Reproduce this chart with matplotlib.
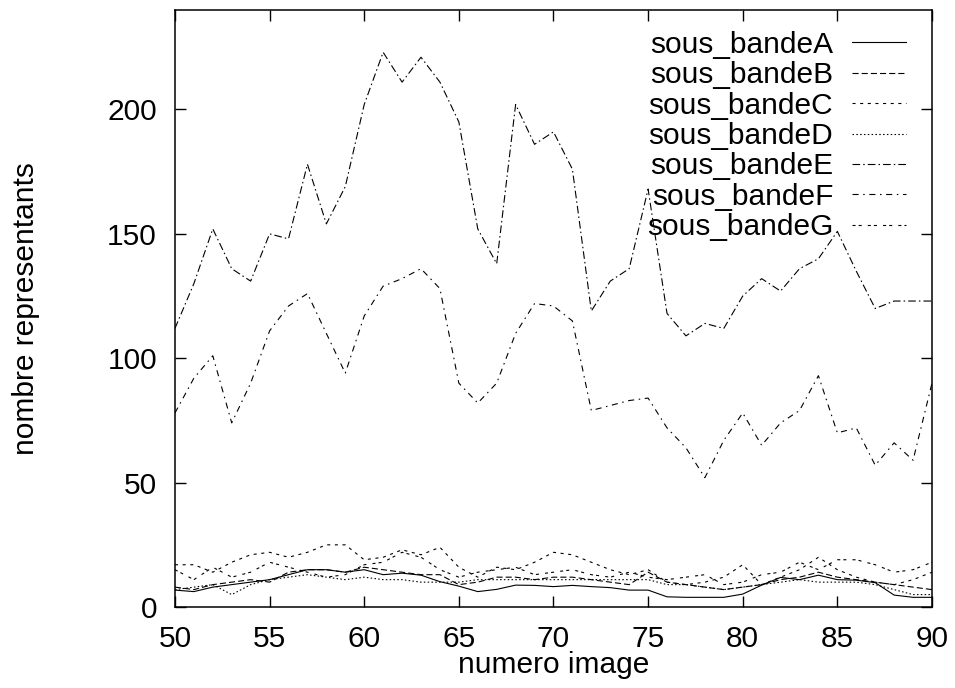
import matplotlib
matplotlib.use("Agg")
import matplotlib.pyplot as plt

plt.rcParams['font.family'] = ['Liberation Sans', 'DejaVu Sans']
plt.rcParams['lines.scale_dashes'] = False

x = list(range(50, 91))

bandeA = [6.8, 6.2, 8, 9, 10, 11, 13, 15, 15, 14, 15, 13, 13.6, 12.8, 10.2, 8.4, 6.2, 7.1, 8.8, 8.7,
          8.2, 8.7, 8.2, 7.8, 6.8, 6.8, 4.1, 3.9, 3.9, 3.9, 5.2, 8.8, 11.9, 11, 12.8, 11, 10.8, 9.8,
          4.8, 3.9, 3.9]
bandeB = [8, 7, 9, 10, 11, 10, 14, 15, 15, 14, 16, 15, 14, 13, 13, 9, 10, 12, 12, 11,
          12, 12, 11, 10, 9, 14, 10, 9, 8, 7, 8, 9, 11, 12, 14, 12, 11, 10, 9, 8, 7]
bandeC = [17, 17, 14, 18, 21, 22, 20, 22, 25, 25, 19, 20, 23, 21, 24, 16, 12, 16, 15, 18,
          22, 21, 18, 15, 13, 15, 10, 9, 10, 12, 17, 9, 12, 15, 20, 15, 12, 10, 9, 11, 14]
bandeD = [7, 8, 9, 5, 9, 11, 12, 13, 12, 11, 12, 11, 11, 10, 10, 10, 11, 11, 11, 11,
          11, 11, 11, 11, 11, 11, 9, 9, 8, 7, 8, 9, 10, 11, 10, 10, 10, 9, 7, 5, 5]
bandeE = [112, 130, 152, 136, 131, 150, 148, 178, 154, 169, 202, 223, 211, 221, 211, 195, 152, 138,
          202, 186, 191, 176, 119, 131, 136, 168, 118, 109, 114, 112, 125, 132, 127, 136, 140, 151,
          135, 120, 123, 123, 123]
bandeF = [78, 92, 101, 74, 90, 111, 121, 126, 110, 94, 117, 129, 132, 136, 128, 90, 82, 90,
          110, 122, 121, 115, 79, 81, 83, 84, 72, 64, 52, 67, 78, 65, 74, 79, 93, 70, 72, 57,
          66, 59, 90]
bandeG = [15, 11, 16, 12, 14, 18, 16, 14, 12, 13, 17, 18, 22, 20, 15, 12, 14, 15, 16, 13,
          14, 15, 13, 12, 14, 12, 11, 12, 13, 9, 10, 13, 14, 18, 15, 19, 19, 17, 14, 15, 18]

labels = ["sous_bandeA", "sous_bandeB", "sous_bandeC", "sous_bandeD",
          "sous_bandeE", "sous_bandeF", "sous_bandeG"]
series = [bandeA, bandeB, bandeC, bandeD, bandeE, bandeF, bandeG]

u = 1.1
dashes = [None, (0, (4*u, 2*u)), (0, (2*u, 3*u)), (0, (1*u, 1.5*u)),
          (0, (5*u, 2*u, 1*u, 2*u)), (0, (4*u, 3*u, 1*u, 3*u)), (0, (2*u, 2*u, 2*u, 4*u))]

fs = 21.5

fig = plt.figure(figsize=(9.55, 6.88), dpi=100)
ax = fig.add_axes([0.1832, 0.1177, 0.9759 - 0.1832, 0.9855 - 0.1177])

for s, lab, d in zip(series, labels, dashes):
    if d is None:
        ax.plot(x, s, color='black', lw=0.8, label=lab)
    else:
        ax.plot(x, s, color='black', lw=0.8, linestyle=d, label=lab)

ax.set_xlim(50, 90)
ax.set_ylim(0, 240)
ax.set_xticks(range(50, 91, 5))
ax.set_yticks([0, 50, 100, 150, 200])
ax.tick_params(direction='in', length=8, width=1, top=True, right=True, labelsize=fs)
ax.tick_params(axis='y', pad=13)
ax.tick_params(axis='x', pad=13)
for sp in ax.spines.values():
    sp.set_linewidth(1.1)

ax.set_xlabel("numero image", fontsize=fs)
ax.set_ylabel("nombre representants", fontsize=fs)
ax.xaxis.set_label_coords(0.5, -0.073)
ax.yaxis.set_label_coords(-0.178, 0.5)

leg = ax.legend(loc='upper right', bbox_to_anchor=(0.9815, 0.985), frameon=False,
                markerfirst=False, fontsize=fs, handlelength=1.8, labelspacing=0.08,
                borderaxespad=0, borderpad=0.4, handletextpad=0.64)

fig.savefig("out.png", dpi=100)
